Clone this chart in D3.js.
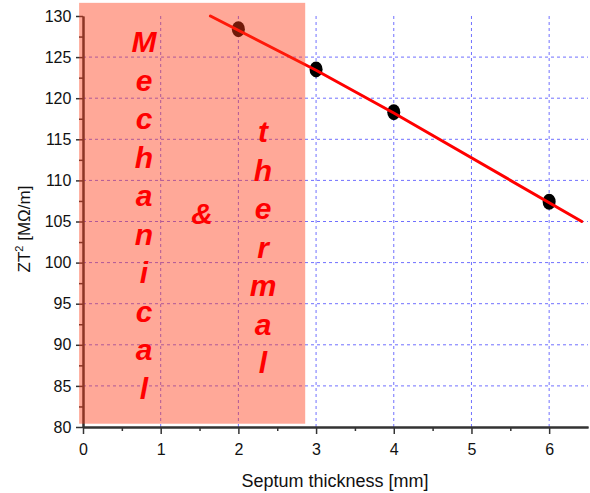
<!DOCTYPE html>
<html>
<head>
<meta charset="utf-8">
<script src="https://cdn.jsdelivr.net/npm/d3@7"></script>
<style>
  html, body { margin: 0; padding: 0; background: #fff; }
  svg { display: block; font-family: Arial, "Liberation Sans", sans-serif; }
</style>
</head>
<body>
<svg id="chart" width="590" height="493"></svg>
<script>
// Measured figure of merit against septum thickness
const thickness = [2, 3, 4, 6];
const zt2 = [128.4, 123.5, 118.3, 107.4];

// Fitted trend line (x in mm, y in MΩ/m)
const fitX = [1.64, 3.0, 4.0, 6.42];
const fitY = [130.0, 123.4, 118.2, 105.0];

// Axis ticks
const xTicks = [0, 1, 2, 3, 4, 5, 6];
const xMinorTicks = [0.5, 1.5, 2.5, 3.5, 4.5, 5.5];
const yTicks = [80, 85, 90, 95, 100, 105, 110, 115, 120, 125, 130];
const yMinorTicks = [82.5, 87.5, 92.5, 97.5, 102.5, 107.5, 112.5, 117.5, 122.5, 127.5];

// Excluded region (mechanical & thermal limits), in data units
const regionX = [-0.05, 2.86];
const regionY = [80.4, 131.6];

// Annotation words stacked vertically inside the region
const wordLeft = "Mechanical";
const wordMid = "&";
const wordRight = "thermal";

const svg = d3.select("#chart");
const x = d3.scaleLinear().domain([0, 6.5]).range([83, 588]);
const y = d3.scaleLinear().domain([80, 130]).range([427, 16]);

// Grid
const grid = svg.append("g")
  .attr("stroke", "#7070ff")
  .attr("stroke-width", 1)
  .attr("stroke-dasharray", "3,3");
grid.selectAll("line.v").data(xTicks.filter(d => d > 0)).join("line")
  .attr("x1", d => x(d)).attr("x2", d => x(d))
  .attr("y1", y(130)).attr("y2", y(80));
grid.selectAll("line.h").data(yTicks.filter(d => d > 80 && d < 130)).join("line")
  .attr("x1", x(0)).attr("x2", x(6.5))
  .attr("y1", d => y(d)).attr("y2", d => y(d));

// Axes
const axisColor = "#333";
const xAxis = svg.append("g").attr("transform", `translate(0,${y(80)})`)
  .call(d3.axisBottom(x).tickValues(xTicks).tickFormat(d3.format("d")).tickSize(7).tickSizeOuter(0));
const xMinor = svg.append("g").attr("transform", `translate(0,${y(80)})`)
  .call(d3.axisBottom(x).tickValues(xMinorTicks).tickFormat("").tickSize(4).tickSizeOuter(0));
const yAxis = svg.append("g").attr("transform", `translate(${x(0)},0)`)
  .call(d3.axisLeft(y).tickValues(yTicks).tickFormat(d3.format("d")).tickSize(7).tickSizeOuter(0));
const yMinor = svg.append("g").attr("transform", `translate(${x(0)},0)`)
  .call(d3.axisLeft(y).tickValues(yMinorTicks).tickFormat("").tickSize(4).tickSizeOuter(0));

[xAxis, xMinor, yAxis, yMinor].forEach(g => {
  g.select(".domain").attr("stroke", axisColor).attr("stroke-width", 2);
  g.selectAll(".tick line").attr("stroke", axisColor).attr("stroke-width", 1.5);
  g.selectAll(".tick text").attr("fill", "#111").attr("font-size", 16)
    .attr("font-family", "Arial, 'Liberation Sans', sans-serif");
});
xAxis.selectAll(".tick text").attr("dy", "1.15em");
yAxis.selectAll(".tick text").attr("dx", "-0.1em");

// Axis titles
svg.append("text")
  .attr("x", 335).attr("y", 487)
  .attr("text-anchor", "middle")
  .attr("font-size", 18).attr("fill", "#111")
  .text("Septum thickness [mm]");

const yLabel = svg.append("text")
  .attr("transform", `translate(30,229) rotate(-90)`)
  .attr("text-anchor", "middle")
  .attr("font-size", 17).attr("fill", "#111");
yLabel.append("tspan").text("ZT");
yLabel.append("tspan").attr("font-size", 11).attr("dy", -7).text("2");
yLabel.append("tspan").attr("dy", 7).text(" [MΩ/m]");

// Measured points
svg.append("g").selectAll("ellipse").data(thickness).join("ellipse")
  .attr("cx", d => x(d))
  .attr("cy", (d, i) => y(zt2[i]))
  .attr("rx", 6.5).attr("ry", 8)
  .attr("fill", "#000");

// Fit line
const fitLine = d3.line()
  .x(d => x(d[0])).y(d => y(d[1]));
svg.append("path")
  .datum(fitX.map((v, i) => [v, fitY[i]]))
  .attr("d", fitLine)
  .attr("fill", "none")
  .attr("stroke", "#ff0000")
  .attr("stroke-width", 3)
  .attr("stroke-linejoin", "round")
  .attr("stroke-linecap", "round");

// Translucent shading for the excluded region
svg.append("rect")
  .attr("x", x(regionX[0]))
  .attr("y", y(regionY[1]))
  .attr("width", x(regionX[1]) - x(regionX[0]))
  .attr("height", y(regionY[0]) - y(regionY[1]))
  .attr("fill", "rgb(255,57,20)")
  .attr("fill-opacity", 0.44);

// Vertical annotation letters
const letterStyle = sel => sel
  .attr("font-size", 30)
  .attr("font-weight", "bold")
  .attr("font-style", "italic")
  .attr("fill", "#ff0000")
  .attr("text-anchor", "middle");

const step = 38.5;
svg.append("g").selectAll("text").data(wordLeft.split("")).join("text")
  .attr("x", 144).attr("y", (d, i) => 52 + i * step)
  .call(letterStyle)
  .text(d => d);

svg.append("text")
  .attr("x", 202).attr("y", 224)
  .call(letterStyle)
  .text(wordMid);

svg.append("g").selectAll("text").data(wordRight.split("")).join("text")
  .attr("x", 263).attr("y", (d, i) => 142 + i * step)
  .call(letterStyle)
  .text(d => d);
</script>
</body>
</html>
